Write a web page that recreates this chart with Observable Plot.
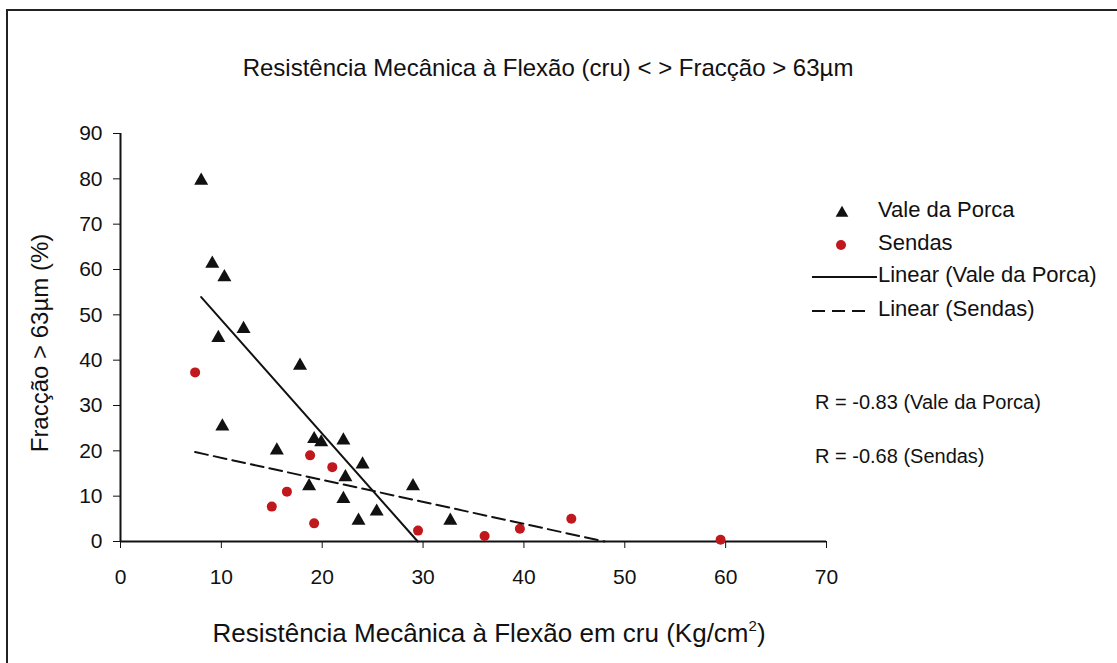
<!DOCTYPE html>
<html>
<head>
<meta charset="utf-8">
<script src="https://cdn.jsdelivr.net/npm/d3@7"></script>
<script src="https://cdn.jsdelivr.net/npm/@observablehq/plot@0.6"></script>
<style>
  html, body { margin: 0; padding: 0; background: #fff; }
  body { font-family: "Liberation Sans", Arial, sans-serif; color: #111; }
  #wrap { position: relative; width: 1117px; height: 663px; overflow: hidden; background: #fff; }
  #frame { position: absolute; left: 6px; top: 9px; width: 1140px; height: 700px; border: 2px solid #222; box-sizing: border-box; }
  #chart { position: absolute; left: 0; top: 0; }
  #title { position: absolute; left: 0; width: 1096px; top: 54px; text-align: center; font-size: 24px; line-height: 28px; white-space: nowrap; }
  #xlabel { position: absolute; left: 189px; width: 600px; top: 618px; text-align: center; font-size: 26px; line-height: 30px; white-space: nowrap; }
  #ylabel { position: absolute; left: 40px; top: 343px; width: 400px; text-align: center; font-size: 24px; line-height: 28px; white-space: nowrap;
            transform: translate(-50%, -50%) rotate(-90deg); }
  .lg-sym { position: absolute; }
  .lg-txt { position: absolute; font-size: 22px; line-height: 26px; white-space: nowrap; }
  .r-txt { position: absolute; font-size: 20px; line-height: 24px; white-space: nowrap; }
</style>
</head>
<body>
<div id="wrap">
  <div id="frame"></div>
  <div id="chart"></div>
  <div id="title"></div>
  <div id="xlabel"></div>
  <div id="ylabel"></div>
  <div id="legend"></div>
</div>
<script>
// ---- data ----
const titleText = "Resistência Mecânica à Flexão (cru) < > Fracção > 63µm";
const xLabelMain = "Resistência Mecânica à Flexão em cru (Kg/cm";
const xLabelSup = "2";
const xLabelEnd = ")";
const yLabel = "Fracção > 63µm (%)";
const seriesNames = ["Vale da Porca", "Sendas"];
const trendNames = ["Linear (Vale da Porca)", "Linear (Sendas)"];
const rTexts = ["R = -0.83 (Vale da Porca)", "R = -0.68 (Sendas)"];
const xTicks = [0, 10, 20, 30, 40, 50, 60, 70];
const yTicks = [0, 10, 20, 30, 40, 50, 60, 70, 80, 90];

const valeX = [8.0, 9.1, 10.3, 12.2, 9.7, 17.8, 10.1, 15.5, 19.2, 19.9, 22.1, 24.0, 22.3, 18.7, 22.1, 23.6, 25.4, 29.0, 32.7];
const valeY = [79.6, 61.3, 58.3, 46.9, 44.9, 38.8, 25.4, 20.1, 22.6, 21.9, 22.3, 17.0, 14.2, 12.2, 9.4, 4.6, 6.6, 12.2, 4.6];
const sendasX = [7.4, 18.8, 21.0, 16.5, 15.0, 19.2, 29.5, 36.1, 39.6, 44.7, 59.5];
const sendasY = [37.3, 19.0, 16.4, 11.0, 7.7, 4.0, 2.4, 1.2, 2.8, 5.0, 0.4];

const colVale = "#111111";
const colSendas = "#c0181c";

// ---- build tables ----
const vale = valeX.map((x, i) => ({x, y: valeY[i]}));
const sendas = sendasX.map((x, i) => ({x, y: sendasY[i]}));

// least-squares trend line, drawn from min x until it reaches y = 0 (axis minimum)
function trend(pts) {
  const mx = d3.mean(pts, d => d.x), my = d3.mean(pts, d => d.y);
  const sxy = d3.sum(pts, d => (d.x - mx) * (d.y - my));
  const sxx = d3.sum(pts, d => (d.x - mx) ** 2);
  const m = sxy / sxx, b = my - m * mx;
  const x0 = d3.min(pts, d => d.x);
  let x1 = d3.max(pts, d => d.x);
  if (m < 0) x1 = Math.min(x1, -b / m);
  return [{x: x0, y: m * x0 + b}, {x: x1, y: Math.max(0, m * x1 + b)}];
}
const trendVale = trend(vale);
const trendSendas = trend(sendas);

// ---- chart ----
const chart = Plot.plot({
  width: 1117,
  height: 663,
  marginLeft: 120,
  marginRight: 291,
  marginTop: 133,
  marginBottom: 122,
  style: { fontFamily: "'Liberation Sans', Arial, sans-serif", color: "#111", background: "transparent", overflow: "visible" },
  x: { domain: [0, 70] },
  y: { domain: [0, 90] },
  marks: [
    Plot.axisX({ ticks: xTicks, tickSize: 7, tickPadding: 21, fontSize: 21, tickFormat: d => String(d), label: null }),
    Plot.axisY({ ticks: yTicks, tickSize: 7, tickPadding: 11, fontSize: 21, tickFormat: d => String(d), label: null }),
    Plot.ruleX([0], { stroke: "#111", strokeWidth: 2 }),
    Plot.ruleY([0], { stroke: "#111", strokeWidth: 2 }),
    Plot.dot(vale, { x: "x", y: "y", symbol: "triangle", fill: colVale, stroke: "none", r: 5.2 }),
    Plot.dot(sendas, { x: "x", y: "y", symbol: "circle", fill: colSendas, stroke: "none", r: 5 }),
    Plot.line(trendVale, { x: "x", y: "y", stroke: "#111", strokeWidth: 2 }),
    Plot.line(trendSendas, { x: "x", y: "y", stroke: "#111", strokeWidth: 2, strokeDasharray: "13,6" })
  ]
});
document.getElementById("chart").appendChild(chart);
document.getElementById("title").textContent = titleText;
const xl = document.getElementById("xlabel");
xl.append(xLabelMain);
const sup = document.createElement("sup");
sup.style.fontSize = "15px"; sup.style.verticalAlign = "11px"; sup.style.lineHeight = "0";
sup.textContent = xLabelSup;
xl.append(sup, xLabelEnd);
document.getElementById("ylabel").textContent = yLabel;

// ---- legend (HTML) ----
const legend = document.getElementById("legend");
const ns = "http://www.w3.org/2000/svg";
function symSvg(cy, draw) {
  const s = document.createElementNS(ns, "svg");
  s.setAttribute("width", 70); s.setAttribute("height", 20);
  s.setAttribute("class", "lg-sym");
  s.style.left = "808px"; s.style.top = (cy - 10) + "px";
  draw(s);
  legend.appendChild(s);
}
function el(s, tag, attrs) {
  const e = document.createElementNS(ns, tag);
  for (const k in attrs) e.setAttribute(k, attrs[k]);
  s.appendChild(e);
}
symSvg(213, s => el(s, "path", { d: d3.symbol(d3.symbolTriangle, 70)(), transform: "translate(34,10)", fill: colVale }));
symSvg(245, s => el(s, "circle", { cx: 33, cy: 10, r: 5, fill: colSendas }));
symSvg(277, s => el(s, "line", { x1: 4, x2: 69, y1: 10, y2: 10, stroke: "#111", "stroke-width": 2 }));
symSvg(311, s => el(s, "line", { x1: 4, x2: 60, y1: 10, y2: 10, stroke: "#111", "stroke-width": 2, "stroke-dasharray": "13,7" }));
const legTexts = [seriesNames[0], seriesNames[1], trendNames[0], trendNames[1]];
const legTops = [197, 230, 262, 296];
legTexts.forEach((t, i) => {
  const d = document.createElement("div");
  d.className = "lg-txt";
  d.style.left = "878px"; d.style.top = legTops[i] + "px";
  d.textContent = t;
  legend.appendChild(d);
});
const rTops = [390, 444];
rTexts.forEach((t, i) => {
  const d = document.createElement("div");
  d.className = "r-txt";
  d.style.left = "815px"; d.style.top = rTops[i] + "px";
  d.textContent = t;
  legend.appendChild(d);
});
</script>
</body>
</html>
